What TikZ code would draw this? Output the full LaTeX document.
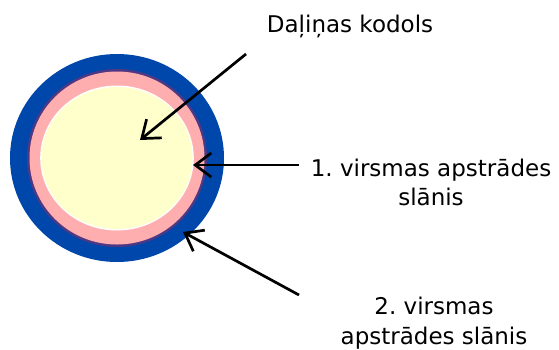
\documentclass[tikz,border=0pt]{standalone}
\usepackage{fontspec}
\setmainfont{DejaVu Sans}
\frenchspacing
\usetikzlibrary{arrows.meta,positioning}
\definecolor{shellblue}{RGB}{0,71,171}
\definecolor{shellpurple}{RGB}{78,56,132}
\definecolor{shellpink}{RGB}{255,174,176}
\definecolor{corecream}{RGB}{255,255,204}
\tikzset{
  lbl/.style={align=center, inner sep=0pt, font=\fontsize{23}{29.5}\selectfont},
  pointer/.style={-{Straight Barb[length=16pt,width=24pt]}, line width=2.7pt, black}
}

\begin{document}
\begin{tikzpicture}[x=1pt, y=-1pt]
  \useasboundingbox (0,0) rectangle (559,349);

  % particle, outside in
  \coordinate (ctr) at (117,158);
  \fill[shellblue] (ctr) ellipse [x radius=107, y radius=104];
  \fill[shellpurple] (ctr) ellipse [x radius=90, y radius=89];
  \fill[shellpink] (ctr) ellipse [x radius=87.5, y radius=86.5];
  \fill[white] (ctr) ellipse [x radius=76.8, y radius=72.5];
  \fill[corecream] (ctr) ellipse [x radius=75.5, y radius=71];

  % where the arrows point
  \coordinate (core) at (140,140);
  \coordinate (shell1) at (193,165);
  \coordinate (shell2) at (183,232);

  \node[lbl, anchor=base] (lcore) at (350,32) {Daļiņas kodols};
  \node[lbl] (lone) at (431,182.6) {1. virsmas apstrādes\\slānis};
  \node[lbl] (ltwo) at (434,323.2) {2. virsmas\\apstrādes slānis};

  \coordinate (from0) at (246,54);
  \coordinate (from1) at (299,165);
  \coordinate (from2) at (299,295);

  \draw[pointer] (from0) -- (core);
  \draw[pointer] (from1) -- (shell1);
  \draw[pointer] (from2) -- (shell2);
\end{tikzpicture}
\end{document}
